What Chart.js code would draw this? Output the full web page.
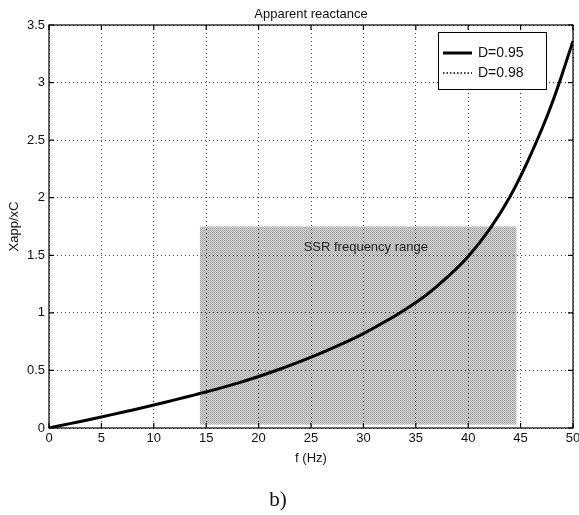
<!DOCTYPE html>
<html>
<head>
<meta charset="utf-8">
<script src="https://cdn.jsdelivr.net/npm/chart.js@4.4.0/dist/chart.umd.min.js"></script>
<style>
  html, body { margin: 0; padding: 0; background: #fff; }
  canvas { display: block; }
</style>
</head>
<body>
<canvas id="grafico" width="579" height="515"></canvas>
<script>
// dados (a cada 2 Hz)
const frequencias = [0, 2, 4, 6, 8, 10, 12, 14, 16, 18, 20, 22, 24, 26, 28, 30, 32, 34, 36, 38, 40, 42, 44, 46, 48, 50];
const reatanciaD095 = [0, 0.038, 0.076, 0.116, 0.157, 0.2, 0.244, 0.29, 0.338, 0.39, 0.447, 0.51, 0.578, 0.652, 0.732,
    0.82, 0.92, 1.03, 1.155, 1.31, 1.49, 1.72, 2.01, 2.38, 2.82, 3.36];
const reatanciaD098 = [0, 0.038, 0.076, 0.116, 0.157, 0.2, 0.244, 0.29, 0.338, 0.39, 0.447, 0.51, 0.578, 0.652, 0.732,
    0.82, 0.92, 1.03, 1.155, 1.31, 1.49, 1.72, 2.01, 2.38, 2.82, 3.36];
const faixaSSR = [14.4, 44.6];      // Hz
const alturaSSR = [0.03, 1.75];     // Xapp/xC
const rotulos = ["D=0.95", "D=0.98"];

const fonte = "'Liberation Sans', Arial, Helvetica, sans-serif";

function pontos(xs, ys) {
    return xs.map((x, i) => ({ x: x, y: ys[i] }));
}

// textura pontilhada da faixa SSR
function padraoCinza(ctx) {
    const c = document.createElement("canvas");
    c.width = 2; c.height = 2;
    const g = c.getContext("2d");
    g.fillStyle = "#d4d4d4"; g.fillRect(0, 0, 2, 2);
    g.fillStyle = "#9e9e9e"; g.fillRect(0, 0, 1, 1);
    g.fillStyle = "#b0b0b0"; g.fillRect(1, 1, 1, 1);
    return ctx.createPattern(c, "repeat");
}

const moldura = {
    id: "moldura",
    beforeDraw(chart) {
        const { ctx, chartArea: a, scales: { x, y } } = chart;
        ctx.save();
        // faixa SSR
        const x0 = x.getPixelForValue(faixaSSR[0]), x1 = x.getPixelForValue(faixaSSR[1]);
        const y0 = y.getPixelForValue(alturaSSR[1]), y1 = y.getPixelForValue(alturaSSR[0]);
        ctx.fillStyle = padraoCinza(ctx);
        ctx.fillRect(x0, y0, x1 - x0, y1 - y0);
        // titulo
        ctx.fillStyle = "#111";
        ctx.font = "13px " + fonte;
        ctx.textAlign = "center";
        ctx.textBaseline = "middle";
        ctx.fillText("Apparent reactance", (a.left + a.right) / 2, 14);
        // rotulo da figura
        ctx.font = "21px 'Liberation Serif', 'Times New Roman', serif";
        ctx.fillText("b)", 278, 500);
        ctx.restore();
    },
    beforeDatasetsDraw(chart) {
        const { ctx, scales: { x, y } } = chart;
        ctx.save();
        ctx.fillStyle = "#222";
        ctx.font = "13px " + fonte;
        ctx.textAlign = "left";
        ctx.textBaseline = "middle";
        ctx.fillText("SSR frequency range", x.getPixelForValue(24.3), y.getPixelForValue(1.565));
        ctx.restore();
    },
    afterDraw(chart) {
        const { ctx, chartArea: a, scales: { x, y } } = chart;
        ctx.save();
        ctx.strokeStyle = "#000";
        ctx.lineWidth = 1.2;
        ctx.strokeRect(a.left, a.top, a.right - a.left, a.bottom - a.top);
        // marcas internas (estilo matlab)
        ctx.beginPath();
        x.ticks.forEach(t => {
            const px = x.getPixelForValue(t.value);
            ctx.moveTo(px, a.bottom); ctx.lineTo(px, a.bottom - 5);
            ctx.moveTo(px, a.top); ctx.lineTo(px, a.top + 5);
        });
        y.ticks.forEach(t => {
            const py = y.getPixelForValue(t.value);
            ctx.moveTo(a.left, py); ctx.lineTo(a.left + 5, py);
            ctx.moveTo(a.right, py); ctx.lineTo(a.right - 5, py);
        });
        ctx.stroke();

        // legenda
        const bx = 438, by = 32, bw = 108, bh = 57;
        ctx.fillStyle = "#fff";
        ctx.fillRect(bx, by, bw, bh);
        ctx.lineWidth = 1;
        ctx.strokeRect(bx + 0.5, by + 0.5, bw, bh);
        chart.data.datasets.forEach((ds, i) => {
            const ly = 53 + i * 20;
            ctx.beginPath();
            ctx.strokeStyle = ds.borderColor;
            ctx.lineWidth = ds.borderWidth;
            ctx.setLineDash(ds.borderDash || []);
            ctx.moveTo(443, ly); ctx.lineTo(472, ly);
            ctx.stroke();
            ctx.setLineDash([]);
            ctx.fillStyle = "#111";
            ctx.font = "14px " + fonte;
            ctx.textAlign = "left";
            ctx.textBaseline = "middle";
            ctx.fillText(ds.label, 478, ly);
        });
        ctx.restore();
    }
};

const ctx = document.getElementById("grafico").getContext("2d");

new Chart(ctx, {
    type: "line",
    data: {
        datasets: [{
            label: rotulos[0],
            data: pontos(frequencias, reatanciaD095),
            borderColor: "#000",
            borderWidth: 3,
            pointRadius: 0,
            tension: 0.4,
            order: 0
        }, {
            label: rotulos[1],
            data: pontos(frequencias, reatanciaD098),
            borderColor: "#000",
            borderWidth: 1.5,
            borderDash: [1.5, 2],
            pointRadius: 0,
            tension: 0.4,
            order: 1
        }]
    },
    options: {
        responsive: false,
        animation: false,
        layout: { padding: { left: 0, right: 6, top: 25, bottom: 37 } },
        plugins: {
            legend: { display: false },
            title: { display: false },
            tooltip: { enabled: false }
        },
        scales: {
            x: {
                type: "linear",
                min: 0, max: 50,
                afterFit: s => { s.height = 50; s.paddingLeft = 0; s.paddingRight = 0; },
                ticks: {
                    stepSize: 5,
                    padding: 3,
                    color: "#111",
                    maxRotation: 0,
                    font: { family: fonte, size: 13 }
                },
                grid: { color: "#444", lineWidth: 1, drawTicks: false },
                border: { display: false, dash: [1, 3] },
                title: {
                    display: true,
                    text: "f (Hz)",
                    color: "#111",
                    padding: { top: 0, bottom: 12 },
                    font: { family: fonte, size: 13 }
                }
            },
            y: {
                min: 0, max: 3.5,
                afterFit: s => { s.width = 49; },
                ticks: {
                    stepSize: 0.5,
                    padding: 4,
                    color: "#111",
                    font: { family: fonte, size: 13 },
                    callback: v => String(v)
                },
                grid: { color: "#444", lineWidth: 1, drawTicks: false },
                border: { display: false, dash: [1, 3] },
                title: {
                    display: true,
                    text: "Xapp/xC",
                    color: "#111",
                    padding: { top: 7, bottom: 0 },
                    font: { family: fonte, size: 13 }
                }
            }
        }
    },
    plugins: [moldura]
});
</script>
</body>
</html>
